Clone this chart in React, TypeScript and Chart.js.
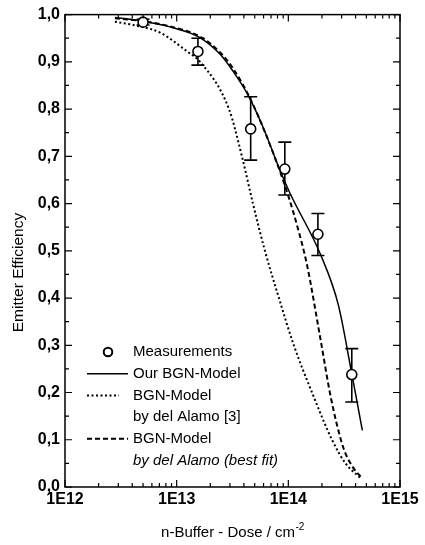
import React, { useEffect, useRef } from "react";
import { Chart, registerables } from "chart.js";

Chart.register(...registerables);

// ---------- data ----------
const measDose = [5.0e12, 1.55e13, 4.6e13, 9.3e13, 1.84e14, 3.7e14];
const measEff = [0.984, 0.922, 0.758, 0.673, 0.535, 0.238];
const measLow = [0.978, 0.893, 0.692, 0.618, 0.49, 0.18];
const measHigh = [0.99, 0.95, 0.826, 0.73, 0.579, 0.293];

const ourDose = [2.8e12, 5.0e12, 8.7e12, 1.6e13, 2.45e13, 3.2e13, 4.3e13, 5.9e13, 8.4e13, 1.03e14, 1.96e14, 2.8e14, 3.7e14, 4.6e14];
const ourEff = [0.994, 0.986, 0.974, 0.952, 0.916, 0.88, 0.832, 0.763, 0.671, 0.623, 0.49, 0.386, 0.24, 0.12];

const alamoDose = [2.8e12, 4.69e12, 7.09e12, 1.24e13, 1.62e13, 2.94e13, 3.84e13, 4.82e13, 6.17e13, 8.24e13, 1.12e14, 1.63e14, 2.46e14, 3.25e14, 4.38e14];
const alamoEff = [0.985, 0.975, 0.962, 0.922, 0.9, 0.8, 0.7, 0.6, 0.5, 0.4, 0.3, 0.2, 0.1, 0.05, 0.02];

const bestDose = [2.8e12, 5.0e12, 8.7e12, 1.6e13, 2.45e13, 3.2e13, 4.8e13, 7.9e13, 1.0e14, 1.2e14, 1.47e14, 1.95e14, 2.4e14, 3.1e14, 3.71e14, 4.6e14];
const bestEff = [0.992, 0.986, 0.975, 0.954, 0.92, 0.886, 0.811, 0.686, 0.616, 0.553, 0.47, 0.31, 0.19, 0.084, 0.045, 0.018];

const seriesNames = ["Measurements", "Our BGN-Model", "BGN-Model", "BGN-Model"];
const seriesSubNames = ["", "", "by del Alamo [3]", "by del Alamo (best fit)"];
const xTitle = "n-Buffer - Dose / cm";
const xTitleSup = "-2";
const yTitle = "Emitter Efficiency";
const xDecades = [12, 13, 14, 15];

const FONT = '"Liberation Sans", Arial, Helvetica, sans-serif';

const toPts = (xs: number[], ys: number[]) => xs.map((x, i) => ({ x, y: ys[i] }));

// ---------- plugins ----------
const errorBarPlugin = {
  id: "errorBars",
  beforeDatasetsDraw(chart: any) {
    const { ctx, scales } = chart;
    const xs = scales.x, ys = scales.y;
    ctx.save();
    ctx.strokeStyle = "#000";
    ctx.lineWidth = 1.6;
    measDose.forEach((d, i) => {
      const px = xs.getPixelForValue(d);
      const lo = ys.getPixelForValue(measLow[i]);
      const hi = ys.getPixelForValue(measHigh[i]);
      ctx.beginPath();
      ctx.moveTo(px, lo);
      ctx.lineTo(px, hi);
      ctx.moveTo(px - 6.5, lo);
      ctx.lineTo(px + 6.5, lo);
      ctx.moveTo(px - 6.5, hi);
      ctx.lineTo(px + 6.5, hi);
      ctx.stroke();
    });
    ctx.restore();
  },
};

const framePlugin = {
  id: "frame",
  afterDraw(chart: any) {
    const { ctx, chartArea: a, scales } = chart;
    const xs = scales.x, ys = scales.y;
    ctx.save();
    ctx.strokeStyle = "#000";
    ctx.lineWidth = 1.5;
    ctx.strokeRect(a.left, a.top, a.right - a.left, a.bottom - a.top);
    ctx.lineWidth = 1.2;
    ctx.beginPath();
    for (let k = 0; k <= 20; k++) {
      const v = k * 0.05;
      const py = ys.getPixelForValue(v);
      const len = k % 2 === 0 ? 7 : 4;
      ctx.moveTo(a.left, py);
      ctx.lineTo(a.left + len, py);
      ctx.moveTo(a.right, py);
      ctx.lineTo(a.right - len, py);
    }
    for (let di = 0; di < xDecades.length; di++) {
      const d = xDecades[di];
      const maxM = di === xDecades.length - 1 ? 1 : 9;
      for (let m = 1; m <= maxM; m++) {
        const px = xs.getPixelForValue(m * Math.pow(10, d));
        const len = m === 1 ? 7 : 4;
        ctx.moveTo(px, a.bottom);
        ctx.lineTo(px, a.bottom - len);
        ctx.moveTo(px, a.top);
        ctx.lineTo(px, a.top + len);
      }
    }
    ctx.stroke();
    ctx.restore();
  },
};

const legendPlugin = {
  id: "customLegend",
  afterDraw(chart: any) {
    const { ctx, chartArea: a } = chart;
    const ds = chart.data.datasets;
    ctx.save();
    ctx.fillStyle = "#000";
    ctx.strokeStyle = "#000";
    ctx.textBaseline = "middle";
    ctx.textAlign = "left";
    const tx = a.left + 68;
    const x0 = a.left + 22;
    const rowY = (i: number) => a.bottom - 135 + i * 21.7;
    const font = `15px ${FONT}`;
    const ital = `italic 15px ${FONT}`;
    ctx.lineWidth = 2;
    ctx.beginPath();
    ctx.arc(a.left + 43, rowY(0), 4.3, 0, Math.PI * 2);
    ctx.stroke();
    ctx.font = font;
    ctx.fillText(seriesNames[0], tx, rowY(0));
    const rows = [1, 2, 4];
    [1, 2, 3].forEach((s, j) => {
      const y = rowY(rows[j]);
      const d = ds[s];
      ctx.save();
      ctx.lineWidth = d.borderWidth;
      ctx.setLineDash(d.borderDash || []);
      ctx.beginPath();
      ctx.moveTo(x0, y);
      ctx.lineTo(s === 2 ? a.left + 54 : a.left + 63, y);
      ctx.stroke();
      ctx.restore();
      ctx.font = font;
      ctx.fillText(seriesNames[s], tx, y);
      if (seriesSubNames[s]) {
        ctx.font = s === 3 ? ital : font;
        ctx.fillText(seriesSubNames[s], tx, y + 21.7);
      }
    });
    ctx.restore();
  },
};

const titlePlugin = {
  id: "axisTitles",
  afterDraw(chart: any) {
    const { ctx, chartArea: a } = chart;
    ctx.save();
    ctx.fillStyle = "#000";
    ctx.font = `15px ${FONT}`;
    ctx.textBaseline = "middle";
    const w1 = ctx.measureText(xTitle).width;
    ctx.font = `10px ${FONT}`;
    const w2 = ctx.measureText(xTitleSup).width;
    const cx = (a.left + a.right) / 2;
    const ty = a.bottom + 46;
    const sx = cx - (w1 + w2) / 2;
    ctx.font = `15px ${FONT}`;
    ctx.textAlign = "left";
    ctx.fillText(xTitle, sx, ty);
    ctx.font = `10px ${FONT}`;
    ctx.fillText(xTitleSup, sx + w1 + 0.5, ty - 6);
    ctx.translate(a.left - 46, a.top + (a.bottom - a.top) * 0.546);
    ctx.rotate(-Math.PI / 2);
    ctx.font = `15.5px ${FONT}`;
    ctx.textAlign = "center";
    ctx.fillText(yTitle, 0, 0);
    ctx.restore();
  },
};

export default function App() {
  const ref = useRef<HTMLCanvasElement>(null);
  useEffect(() => {
    document.body.style.margin = "0";
    const canvas = ref.current;
    if (!canvas) return;
    const chart = new Chart(canvas, {
      type: "line",
      data: {
        datasets: [
          {
            label: seriesNames[0],
            data: toPts(measDose, measEff),
            showLine: false,
            pointStyle: "circle",
            pointRadius: 5,
            pointBackgroundColor: "#fff",
            pointBorderColor: "#000",
            pointBorderWidth: 1.6,
            borderColor: "#000",
            backgroundColor: "#fff",
          },
          {
            label: seriesNames[1],
            data: toPts(ourDose, ourEff),
            borderColor: "#000",
            borderWidth: 1.5,
            pointRadius: 0,
            cubicInterpolationMode: "monotone",
            fill: false,
          },
          {
            label: seriesNames[2],
            data: toPts(alamoDose, alamoEff),
            borderColor: "#000",
            borderWidth: 2,
            borderDash: [2, 2.5],
            pointRadius: 0,
            cubicInterpolationMode: "monotone",
            fill: false,
          },
          {
            label: seriesNames[3],
            data: toPts(bestDose, bestEff),
            borderColor: "#000",
            borderWidth: 2,
            borderDash: [5, 3],
            pointRadius: 0,
            cubicInterpolationMode: "monotone",
            fill: false,
          },
        ],
      },
      options: {
        animation: false,
        responsive: true,
        maintainAspectRatio: false,
        layout: { padding: { top: 10, right: 25, left: 0, bottom: 0 } },
        plugins: { legend: { display: false }, tooltip: { enabled: false } },
        scales: {
          x: {
            type: "logarithmic",
            min: 1e12,
            max: 1e15,
            grid: { display: false, drawTicks: false },
            border: { display: false },
            afterFit: (s: any) => {
              s.height = 58;
            },
            ticks: {
              autoSkip: false,
              maxRotation: 0,
              minRotation: 0,
              padding: 3,
              color: "#000",
              font: { family: FONT, size: 16, weight: "bold" },
              callback: (v: any) => {
                const l = Math.log10(Number(v));
                return Math.abs(l - Math.round(l)) < 1e-6 ? "1E" + Math.round(l) : "";
              },
            },
          },
          y: {
            type: "linear",
            min: 0,
            max: 1,
            grid: { display: false, drawTicks: false },
            border: { display: false },
            afterFit: (s: any) => {
              s.width = 65;
            },
            ticks: {
              stepSize: 0.1,
              padding: 5,
              color: "#000",
              font: { family: FONT, size: 16, weight: "bold" },
              callback: (v: any) => Number(v).toFixed(1).replace(".", ","),
            },
          },
        },
      },
      plugins: [errorBarPlugin, framePlugin, legendPlugin, titlePlugin],
    } as any);
    return () => chart.destroy();
  }, []);
  return (
    <div style={{ width: 425, height: 545, position: "relative", background: "#fff" }}>
      <canvas ref={ref} />
    </div>
  );
}
